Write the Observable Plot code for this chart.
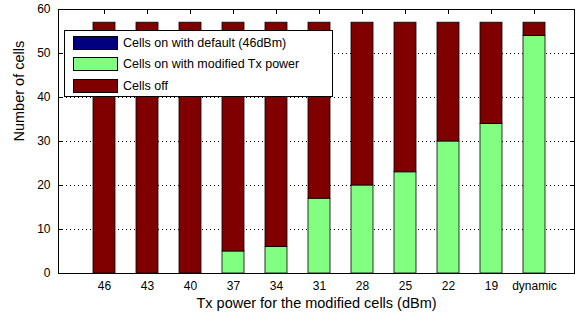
<!DOCTYPE html>
<html>
<head>
<meta charset="utf-8">
<script src="https://cdn.jsdelivr.net/npm/d3@7"></script>
<script src="https://cdn.jsdelivr.net/npm/@observablehq/plot@0.6"></script>
<style>
  body { margin: 0; background: #fff; }
  #wrap { position: relative; width: 582px; height: 319px; font-family: "Liberation Sans", Arial, sans-serif; }
  #legend { position: absolute; left: 64px; top: 30px; width: 269px; height: 67px; background: #fff; border: 1px solid #000; box-sizing: border-box; font-size: 12.5px; color: #000; }
  .row { position: absolute; left: 8px; height: 15px; display: flex; align-items: center; }
  .sw { width: 45px; height: 14px; border: 1px solid #000; box-sizing: border-box; margin-right: 5px; }
</style>
</head>
<body>
<div id="wrap"></div>
<script>
const categories = ["46", "43", "40", "37", "34", "31", "28", "25", "22", "19", "dynamic"];
const seriesNames = ["Cells on with default (46dBm)", "Cells on with modified Tx power", "Cells off"];
const seriesColors = ["#000080", "#80ff80", "#800000"];
const defaultOn = [0, 0, 0, 0, 0, 0, 0, 0, 0, 0, 0];
const modifiedOn = [0, 0, 0, 5, 6, 17, 20, 23, 30, 34, 54];
const cellsOff = [57, 57, 57, 52, 51, 40, 37, 34, 27, 23, 3];
const yTicks = [0, 10, 20, 30, 40, 50, 60];
const gridTicks = [10, 20, 30, 40, 50];

const values = [defaultOn, modifiedOn, cellsOff];
const data = [];
values.forEach((arr, s) => arr.forEach((v, i) => data.push({cat: categories[i], series: seriesNames[s], value: v})));

const font = "Liberation Sans, Arial, sans-serif";
const chart = Plot.plot({
  width: 582,
  height: 319,
  marginLeft: 58,
  marginRight: 8,
  marginTop: 9,
  marginBottom: 46,
  style: {fontFamily: font, fontSize: "12px", color: "#000", background: "#fff"},
  x: {type: "band", domain: categories, paddingInner: 0.5, paddingOuter: 0.6, insetLeft: 6, label: null},
  y: {domain: [0, 60], label: null},
  color: {domain: seriesNames, range: seriesColors},
  marks: [
    Plot.gridY(gridTicks, {stroke: "#000", strokeOpacity: 1, strokeDasharray: "1,3"}),
    Plot.barY(data, {x: "cat", y: "value", fill: "series", stroke: "#000", strokeWidth: 0.8, order: seriesNames}),
    Plot.frame({stroke: "#000"}),
    Plot.axisY(yTicks, {anchor: "left", tickSize: 0, tickPadding: 8, fontSize: 12, label: null}),
    Plot.axisY(yTicks, {anchor: "left", tickSize: -5, tickFormat: () => "", label: null}),
    Plot.axisY(yTicks, {anchor: "right", tickSize: -5, tickFormat: () => "", label: null}),
    Plot.axisX({anchor: "top", tickSize: -4, tickFormat: () => "", label: null}),
    Plot.axisX({anchor: "bottom", tickSize: 0, tickPadding: 8, fontSize: 12, label: null}),
    Plot.text(["Tx power for the modified cells (dBm)"], {frameAnchor: "bottom", dy: 34, fontSize: 14.5, text: d => d}),
    Plot.text(["Number of cells"], {frameAnchor: "left", dx: -39, rotate: -90, fontSize: 14.5, text: d => d})
  ]
});

const wrap = document.getElementById("wrap");
wrap.appendChild(chart);
const legend = document.createElement("div");
legend.id = "legend";
seriesNames.forEach((name, i) => {
  const row = document.createElement("div");
  row.className = "row";
  row.style.top = (4 + i * 21.5) + "px";
  const sw = document.createElement("div");
  sw.className = "sw";
  sw.style.background = seriesColors[i];
  const t = document.createElement("span");
  t.textContent = name;
  row.appendChild(sw);
  row.appendChild(t);
  legend.appendChild(row);
});
wrap.appendChild(legend);
</script>
</body>
</html>
